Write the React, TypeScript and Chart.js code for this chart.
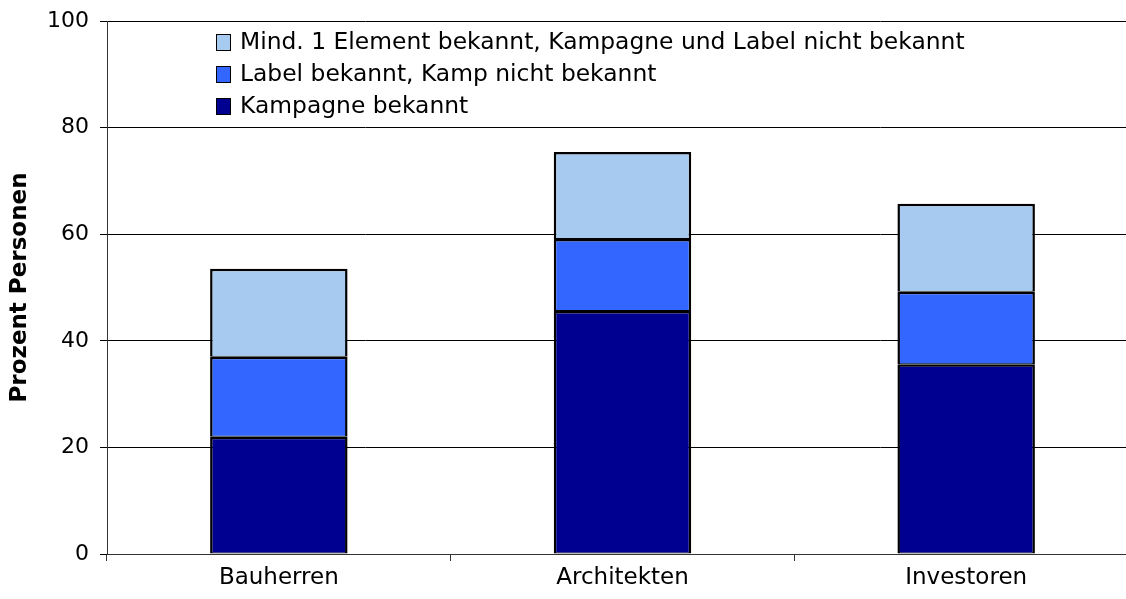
import React, { useEffect, useRef } from "react";
import { Chart, registerables } from "chart.js";

Chart.register(...registerables);

const categories = ["Bauherren", "Architekten", "Investoren"];
const kampagneBekannt = [22, 45.6, 35.6];
const labelBekannt = [15, 13.5, 13.6];
const mindEinElement = [16.5, 16.3, 16.5];
const seriesNames = [
  "Kampagne bekannt",
  "Label bekannt, Kamp nicht bekannt",
  "Mind. 1 Element bekannt, Kampagne und Label nicht bekannt",
];
const seriesColors = ["#000090", "#3366FF", "#A6CAF0"];
const yAxisTitle = "Prozent Personen";

const FONT = '"DejaVu Sans", Verdana, sans-serif';

const legendPlugin = {
  id: "customLegend",
  afterDraw(chart: any) {
    const ctx = chart.ctx;
    const ds = chart.data.datasets;
    ctx.save();
    ctx.font = `23.4px ${FONT}`;
    ctx.textBaseline = "middle";
    ctx.textAlign = "left";
    const x0 = 216;
    const rows = [42, 74, 106];
    for (let i = 0; i < ds.length; i++) {
      const d = ds[ds.length - 1 - i];
      const y = rows[i];
      ctx.fillStyle = d.backgroundColor;
      ctx.fillRect(x0, y - 8, 14, 16);
      ctx.strokeStyle = "#000";
      ctx.lineWidth = 1;
      ctx.strokeRect(x0 + 0.5, y - 7.5, 14, 16);
      ctx.fillStyle = "#000";
      ctx.fillText(d.label, x0 + 24, y + 1);
    }
    ctx.restore();
  },
};

export default function App() {
  const ref = useRef<HTMLCanvasElement>(null);
  useEffect(() => {
    if (!ref.current) return;
    const datasets = [kampagneBekannt, labelBekannt, mindEinElement].map((d, i) => ({
      label: seriesNames[i],
      data: d,
      backgroundColor: seriesColors[i],
      borderColor: "#000",
      borderWidth: { top: 2.5, left: 2.5, right: 2.5, bottom: 1 },
      borderSkipped: false as any,
      inflateAmount: 0,
      barPercentage: 0.4,
      categoryPercentage: 1,
    }));
    const chart = new Chart(ref.current, {
      type: "bar",
      data: { labels: categories, datasets },
      options: {
        responsive: false,
        animation: false,
        layout: { padding: { top: 21, left: 0, right: 2, bottom: 0 } },
        plugins: { legend: { display: false }, tooltip: { enabled: false } },
        scales: {
          x: {
            stacked: true,
            grid: { display: true, drawOnChartArea: false, drawTicks: true, tickLength: 7, color: "#333", offset: true },
            border: { color: "#333", width: 1 },
            ticks: { color: "#000", font: { family: FONT, size: 23 }, padding: 3 },
            afterFit: (s: any) => { s.height = 45; s.paddingLeft = 0; s.paddingRight = 0; },
          },
          y: {
            stacked: true,
            min: 0,
            max: 100,
            ticks: { stepSize: 20, color: "#000", font: { family: FONT, size: 22 }, padding: 11 },
            grid: { color: "#000", lineWidth: 1, tickLength: 7 },
            border: { color: "#333", width: 1 },
            title: {
              display: true,
              text: yAxisTitle,
              color: "#000",
              font: { family: FONT, size: 23, weight: "bold" },
              padding: { top: 6, bottom: 0 },
            },
            afterFit: (s: any) => { s.width = 107; s.paddingTop = 0; s.paddingBottom = 0; },
          },
        },
      },
      plugins: [legendPlugin],
    });
    return () => chart.destroy();
  }, []);
  return (
    <div style={{ position: "fixed", left: 0, top: 0, width: 1140, height: 599, background: "#fff" }}>
      <canvas ref={ref} width={1140} height={599} />
    </div>
  );
}
